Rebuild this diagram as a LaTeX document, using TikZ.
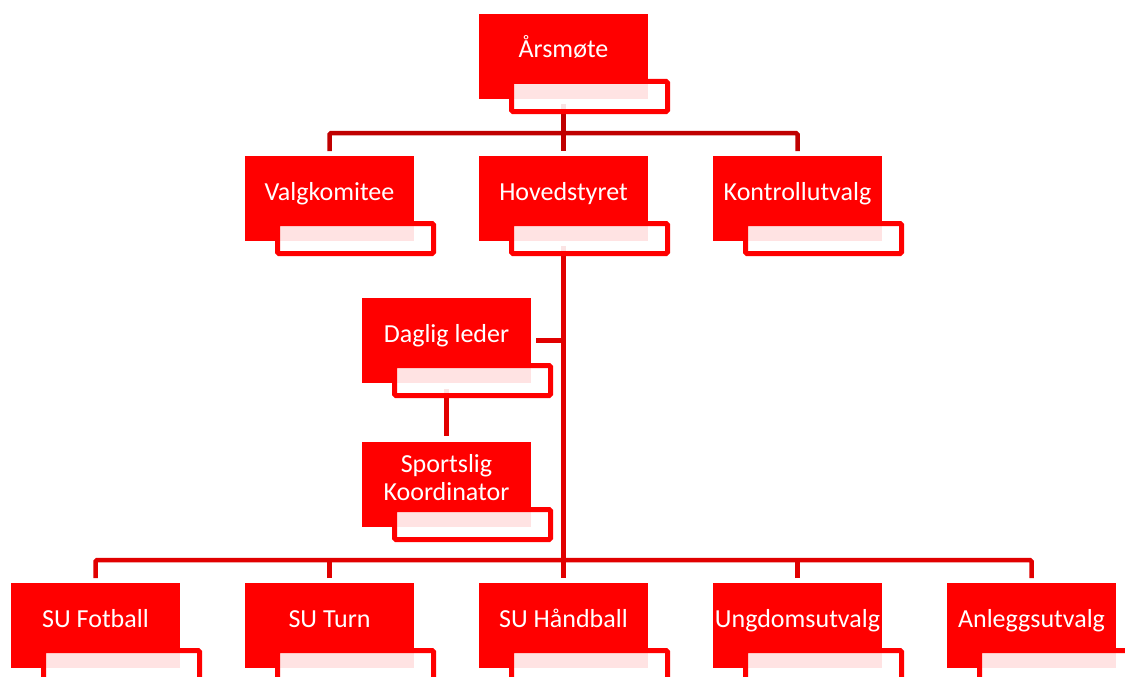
\documentclass[tikz,border=0pt]{standalone}
\usepackage{fontspec}
\setmainfont{Carlito}
\usetikzlibrary{calc}
\pgfdeclarelayer{bg}
\pgfsetlayers{bg,main}
\definecolor{boxred}{RGB}{255,0,0}
\definecolor{linetop}{RGB}{192,0,0}
\definecolor{linelow}{RGB}{225,0,0}
\newcommand\orgunit[5]{% name, cx, top, baseline offset, text
  \node[redbox] (#1) at (#2,#3+42.5) {};
  \node[subbox] (#1-s) at (#2+26,#3+82.5) {};
  \node[lbl] (#1-t) at (#2,#3+#4) {#5};
}
\begin{document}
\begin{tikzpicture}[x=1pt,y=-1pt,
  redbox/.style={fill=boxred, minimum width=169pt, minimum height=85pt, inner sep=0pt, outer sep=0pt},
  subbox/.style={draw=boxred, line width=5pt, fill=white, fill opacity=0.89, rounded corners=1.5pt, minimum width=156pt, minimum height=30pt, inner sep=0pt, outer sep=0pt},
  lbl/.style={text=white, font=\fontsize{26}{28}\selectfont, inner sep=0pt, anchor=base, align=center},
  conA/.style={draw=linetop, line width=4.5pt, rounded corners=1.5pt},
  conB/.style={draw=linelow, line width=4.5pt, rounded corners=1.5pt}]
\useasboundingbox (0,0) rectangle (1125,677);
\clip (0,0) rectangle (1125,677);
\orgunit{am}{563.5}{14}{44}{Årsmøte}
\orgunit{vk}{329.5}{156}{44}{Valgkomitee}
\orgunit{hs}{563.5}{156}{44}{Hovedstyret}
\orgunit{ko}{797.5}{156}{44}{Kontrollutvalg}
\orgunit{dl}{446.5}{298}{44}{Daglig leder}
\orgunit{sk}{446.5}{442}{58}{Sportslig\\Koordinator}
\orgunit{sf}{95.5}{583}{44}{SU Fotball}
\orgunit{st}{329.5}{583}{44}{SU Turn}
\orgunit{sh}{563.5}{583}{44}{SU Håndball}
\orgunit{ug}{797.5}{583}{44}{Ungdomsutvalg}
\orgunit{au}{1031.5}{583}{44}{Anleggsutvalg}
\begin{pgfonlayer}{bg}
  \draw[conA] ($(am.south)+(0,5)$) -- ($(hs.north)+(0,-5)$);
  \draw[conA] ($(vk.north)+(0,-5)$) |- ($(ko.north)+(0,-23)$) -- ($(ko.north)+(0,-5)$);
  \draw[conB] ($(hs.south)+(0,5)$) -- ($(sh.north)+(0,-5)$);
  \draw[conB] ($(dl.east)+(5,0)$) -- (dl.east -| hs.south);
  \draw[conB] ($(dl.south)+(0,6)$) -- ($(sk.north)+(0,-6)$);
  \draw[conB] ($(sf.north)+(0,-5)$) |- ($(au.north)+(0,-23)$) -- ($(au.north)+(0,-5)$);
  \draw[conB] ($(st.north)+(0,-5)$) -- ($(st.north)+(0,-23)$);
  \draw[conB] ($(ug.north)+(0,-5)$) -- ($(ug.north)+(0,-23)$);
\end{pgfonlayer}
\end{tikzpicture}
\end{document}
